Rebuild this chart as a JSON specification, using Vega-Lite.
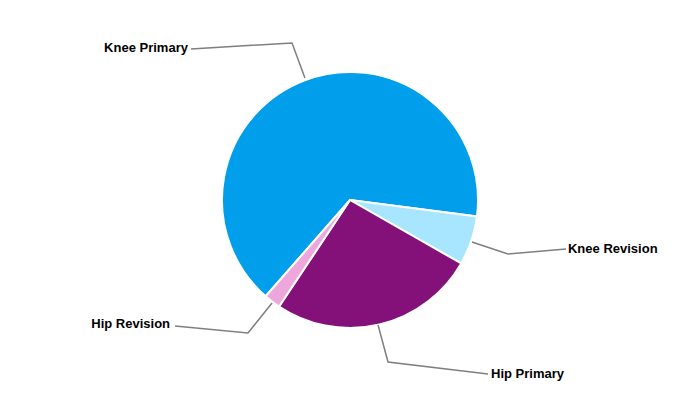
{
  "$schema": "https://vega.github.io/schema/vega-lite/v6.json",
  "width": 700,
  "height": 400,
  "autosize": {"type": "fit", "contains": "padding"},
  "padding": 0,
  "background": "white",
  "config": {"view": {"stroke": null}},
  "datasets": {
    "shares": [
      {"category": "Knee Primary", "share": 65.6},
      {"category": "Knee Revision", "share": 6.2},
      {"category": "Hip Primary", "share": 26.1},
      {"category": "Hip Revision", "share": 2.1}
    ],
    "leaders": [
      {"category": "Knee Primary", "i": 0, "x": -0.352, "y": 0.953},
      {"category": "Knee Primary", "i": 1, "x": -0.453, "y": 1.227},
      {"category": "Knee Primary", "i": 2, "x": -1.242, "y": 1.180},
      {"category": "Knee Revision", "i": 0, "x": 0.953, "y": -0.328},
      {"category": "Knee Revision", "i": 1, "x": 1.234, "y": -0.422},
      {"category": "Knee Revision", "i": 2, "x": 1.688, "y": -0.383},
      {"category": "Hip Primary", "i": 0, "x": 0.219, "y": -0.977},
      {"category": "Hip Primary", "i": 1, "x": 0.297, "y": -1.266},
      {"category": "Hip Primary", "i": 2, "x": 1.078, "y": -1.359},
      {"category": "Hip Revision", "i": 0, "x": -0.609, "y": -0.805},
      {"category": "Hip Revision", "i": 1, "x": -0.797, "y": -1.039},
      {"category": "Hip Revision", "i": 2, "x": -1.367, "y": -0.984}
    ],
    "labels": [
      {"category": "Knee Primary", "x": -1.266, "y": 1.1875, "side": "right"},
      {"category": "Knee Revision", "x": 1.703, "y": -0.383, "side": "left"},
      {"category": "Hip Primary", "x": 1.102, "y": -1.359, "side": "left"},
      {"category": "Hip Revision", "x": -1.406, "y": -0.969, "side": "right"}
    ]
  },
  "layer": [
    {
      "data": {"name": "shares"},
      "mark": {"type": "arc", "outerRadius": 128, "stroke": "white", "strokeWidth": 2},
      "encoding": {
        "theta": {"field": "share", "type": "quantitative", "stack": true, "scale": {"range": [2.0892, 8.3724]}},
        "order": {"field": "category", "sort": "ascending"},
        "color": {
          "field": "category", "type": "nominal", "legend": null,
          "scale": {
            "domain": ["Knee Primary", "Knee Revision", "Hip Primary", "Hip Revision"],
            "range": ["#009EEB", "#A7E6FE", "#841079", "#EEA7DC"]
          }
        }
      }
    },
    {
      "data": {"name": "leaders"},
      "mark": {"type": "line", "stroke": "#7F7F7F", "strokeWidth": 1.5},
      "encoding": {
        "x": {"field": "x", "type": "quantitative", "axis": null, "scale": {"domain": [-2.734375, 2.734375], "nice": false, "zero": false}},
        "y": {"field": "y", "type": "quantitative", "axis": null, "scale": {"domain": [-1.5625, 1.5625], "nice": false, "zero": false}},
        "detail": {"field": "category"},
        "order": {"field": "i", "type": "quantitative"}
      }
    },
    {
      "data": {"name": "labels"},
      "transform": [{"filter": "datum.side == 'right'"}],
      "mark": {"type": "text", "align": "right", "baseline": "middle", "font": "Liberation Sans", "fontWeight": "bold", "fontSize": 13, "color": "black"},
      "encoding": {
        "x": {"field": "x", "type": "quantitative"},
        "y": {"field": "y", "type": "quantitative"},
        "text": {"field": "category"}
      }
    },
    {
      "data": {"name": "labels"},
      "transform": [{"filter": "datum.side == 'left'"}],
      "mark": {"type": "text", "align": "left", "baseline": "middle", "font": "Liberation Sans", "fontWeight": "bold", "fontSize": 13, "color": "black"},
      "encoding": {
        "x": {"field": "x", "type": "quantitative"},
        "y": {"field": "y", "type": "quantitative"},
        "text": {"field": "category"}
      }
    }
  ]
}
